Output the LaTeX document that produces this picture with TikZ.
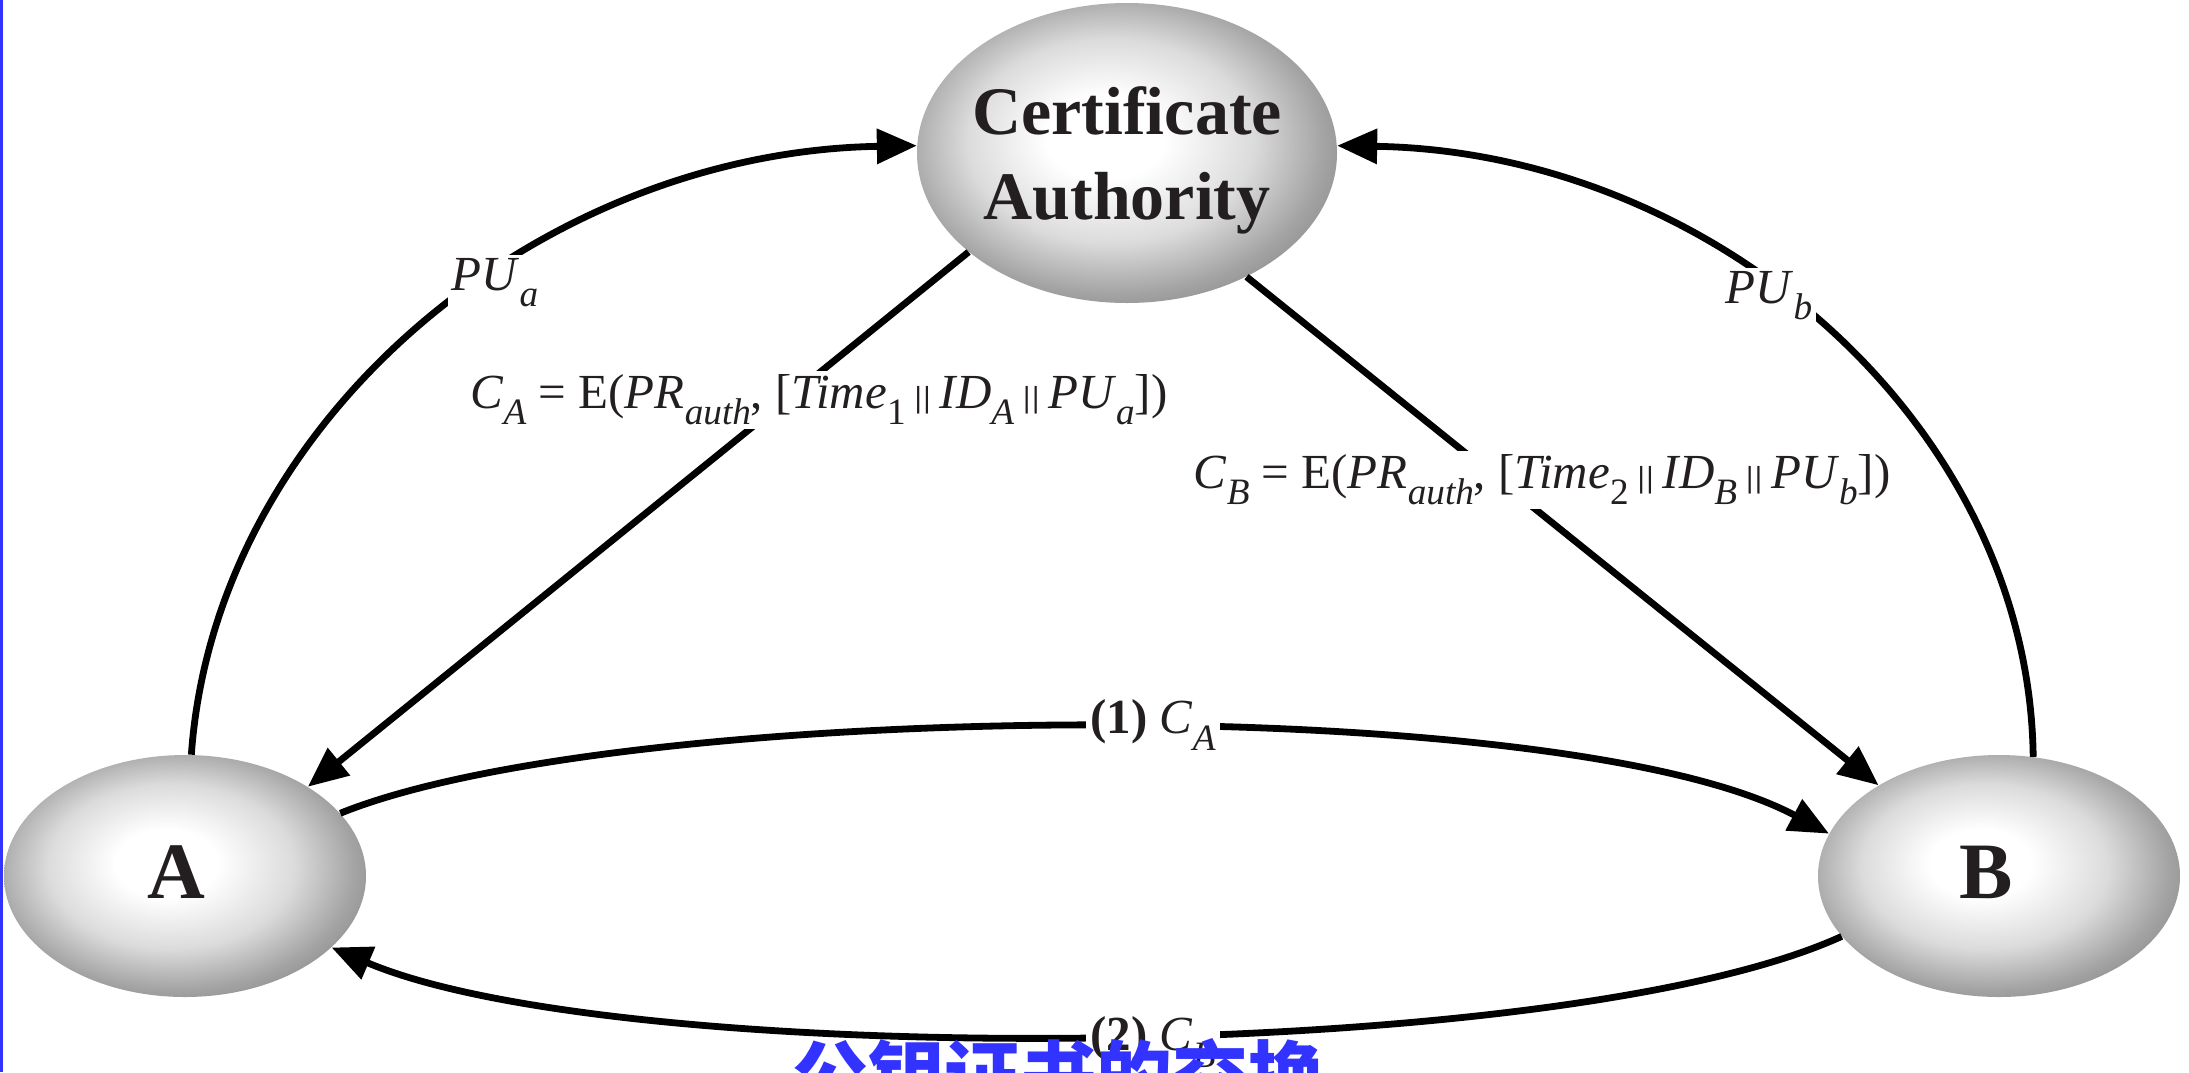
\documentclass[tikz,border=0pt]{standalone}
\usepackage{fontspec}
\usepackage{graphicx}
\setmainfont{Liberation Serif}
\newfontfamily\cjk{Noto Sans CJK SC}
\usetikzlibrary{shapes.geometric,arrows.meta}
\definecolor{cnblue}{RGB}{51,51,255}
\definecolor{inkc}{RGB}{35,31,32}
\pgfdeclareradialshading{eggshade}{\pgfpoint{-3bp}{3bp}}{color(0bp)=(white); color(7bp)=(white); color(17bp)=(black!14); color(25bp)=(black!36); color(28bp)=(black!42); color(50bp)=(black!42)}
\newcommand\iv[1]{\textit{#1}}
\newcommand\lsub[1]{\raisebox{-0.33em}{\scalebox{0.76}{#1}}}
\newcommand\cat{\,\raisebox{0.02em}{\scalebox{0.9}[0.62]{||}}\,}
\begin{document}
\begin{tikzpicture}[x=0.5pt,y=-0.5pt,
  egg/.style={ellipse, shade, shading=eggshade, inner sep=0pt},
  eggtext/.style={text=inkc, inner sep=0pt, align=center},
  conn/.style={line width=3.4pt, black, -{Triangle[length=20pt,width=17pt]}},
  lbl/.style={font=\fontsize{24.5}{28}\selectfont, text=inkc, fill=white, inner sep=2pt}]
\useasboundingbox (0,0) rectangle (2189,1072);
\fill[white] (0,0) rectangle (2189,1072);
\fill[cnblue] (0,0) rectangle (3,1072);
% nodes
\node[egg, minimum width=210pt, minimum height=150pt] (CA) at (1127,153) {};
\node[egg, minimum width=181pt, minimum height=121pt] (A) at (185,876) {};
\node[egg, minimum width=181pt, minimum height=121pt] (B) at (1999,876) {};
\node[eggtext, font=\bfseries\fontsize{34}{42.5}\selectfont] (CAt) at (1127,160) {Certificate\\Authority};
\node[eggtext, font=\bfseries\fontsize{40}{40}\selectfont] (At) at (176,872) {A};
\node[eggtext, font=\bfseries\fontsize{40}{40}\selectfont] (Bt) at (1986,872) {B};
% connectors
\draw[conn] (A.87) .. controls (215,420) and (540,152) .. (CA.178);
\draw[conn] (B.74) .. controls (2029,425) and (1715,152) .. (CA.2);
\draw[conn] (CA.212) -- (A.36);
\draw[conn] (CA.314) -- (B.143);
\draw[conn] (A.22) .. controls (620,700) and (1560,690) .. (B.166);
\draw[conn] (B.201) .. controls (1560,1065) and (620,1070) .. (A.334);
% labels
\node[lbl] (pua) at (495,283) {\iv{PU}\lsub{\iv{a}}};
\node[lbl] (pub) at (1769,296) {\iv{PU}\lsub{\iv{b}}};
\node[lbl] (ca) at (819,400) {\iv{C}\lsub{\iv{A}} = E(\iv{PR}\lsub{\iv{auth}}, [\iv{Time}\lsub{1}\cat\iv{ID}\lsub{\iv{A}}\cat\iv{PU}\lsub{\iv{a}}])};
\node[lbl] (cb) at (1542,480) {\iv{C}\lsub{\iv{B}} = E(\iv{PR}\lsub{\iv{auth}}, [\iv{Time}\lsub{2}\cat\iv{ID}\lsub{\iv{B}}\cat\iv{PU}\lsub{\iv{b}}])};
\node[lbl] (one) at (1153,725) {\textbf{(1)} \iv{C}\lsub{\iv{A}}};
\node[lbl] (two) at (1153,1042) {\textbf{(2)} \iv{C}\lsub{\iv{B}}};
\node[font=\cjk\bfseries\fontsize{38}{38}\selectfont, text=cnblue, anchor=base, inner sep=0pt] (title) at (1058,1104) {公钥证书的交换};
\end{tikzpicture}
\end{document}
